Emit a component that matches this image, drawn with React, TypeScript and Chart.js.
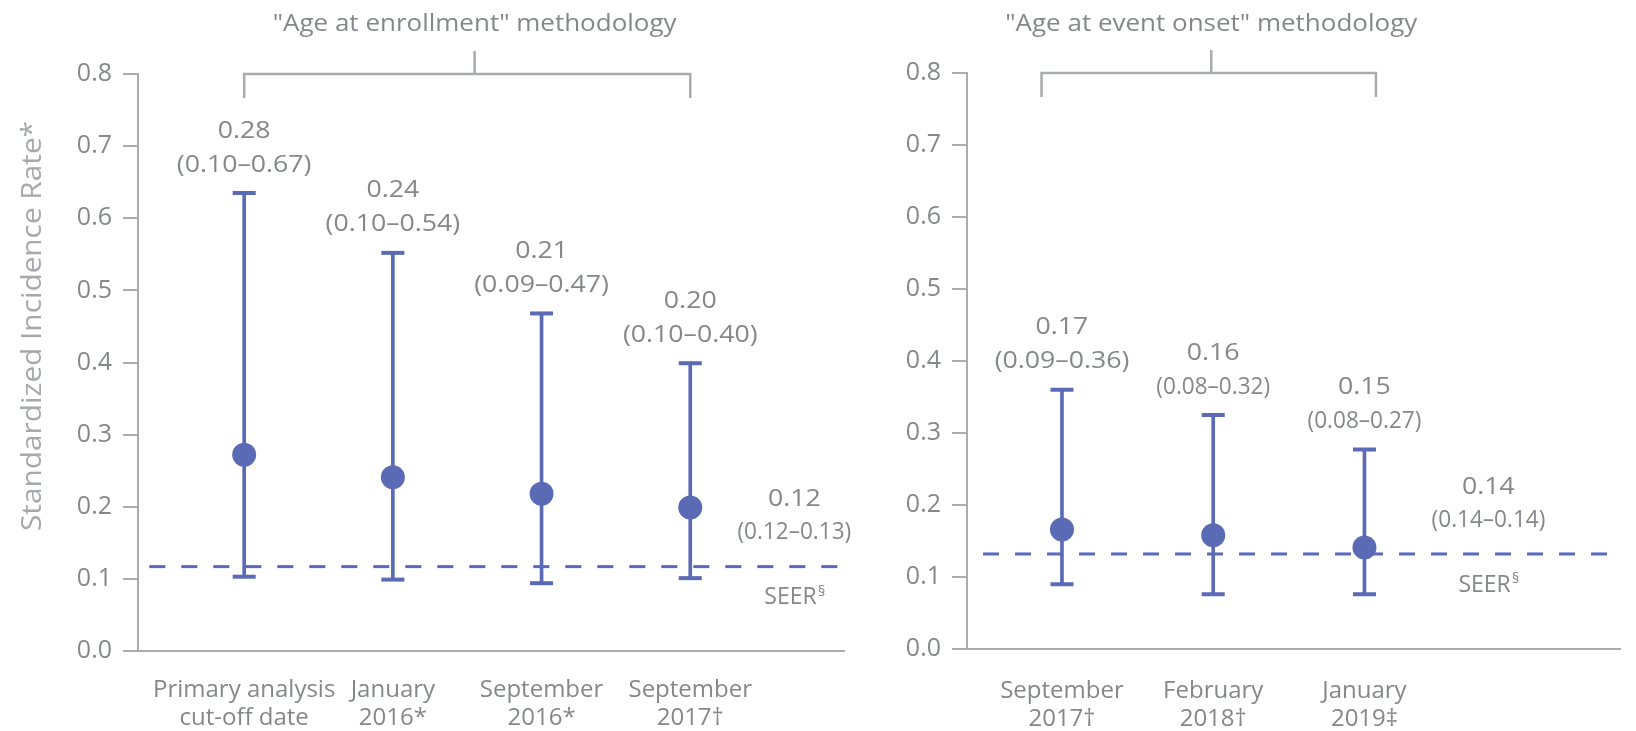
import React, { useEffect, useRef } from "react";
import { Chart, registerables } from "chart.js";

Chart.register(...registerables);

// ---------- data ----------
const Y_TICK_VALUES = [0, 0.1, 0.2, 0.3, 0.4, 0.5, 0.6, 0.7, 0.8];

const LEFT_TITLE = '"Age at enrollment" methodology';
const LEFT_CATEGORIES = [
  ["Primary analysis", "cut-off date"],
  ["January", "2016*"],
  ["September", "2016*"],
  ["September", "2017†"],
];
const LEFT_ESTIMATES = [0.272, 0.241, 0.218, 0.199];
const LEFT_LOWER = [0.103, 0.099, 0.094, 0.101];
const LEFT_UPPER = [0.635, 0.552, 0.468, 0.399];
const LEFT_VALUE_LABELS = ["0.28", "0.24", "0.21", "0.20"];
const LEFT_CI_LABELS = ["(0.10–0.67)", "(0.10–0.54)", "(0.09–0.47)", "(0.10–0.40)"];
const LEFT_SEER = 0.117;
const LEFT_SEER_LABELS = ["0.12", "(0.12–0.13)"];

const RIGHT_TITLE = '"Age at event onset" methodology';
const RIGHT_CATEGORIES = [
  ["September", "2017†"],
  ["February", "2018†"],
  ["January", "2019‡"],
];
const RIGHT_ESTIMATES = [0.166, 0.158, 0.141];
const RIGHT_LOWER = [0.09, 0.076, 0.076];
const RIGHT_UPPER = [0.36, 0.325, 0.277];
const RIGHT_VALUE_LABELS = ["0.17", "0.16", "0.15"];
const RIGHT_CI_LABELS = ["(0.09–0.36)", "(0.08–0.32)", "(0.08–0.27)"];
const RIGHT_SEER = 0.132;
const RIGHT_SEER_LABELS = ["0.14", "(0.14–0.14)"];

const Y_TITLE = "Standardized Incidence Rate*";
const SEER_TEXT = "SEER";
const SEER_MARK = "§";

// ---------- styles ----------
const BLUE = "#5a6ab4";
const AXIS = "#a9abae";
const TEXT = "#85878a";
const TITLE_GRAY = "#a6a8ab";
const FONT = "'Open Sans', 'Noto Sans', sans-serif";
const H = 731;
const WIDE = 1.16;
const NARROW = 0.98;

type PanelCfg = {
  width: number;
  yAxisWidth: number;
  padTop: number;
  padRight: number;
  xAxisHeight: number;
  xPadding: number;
  xMin: number;
  xMax: number;
  seerStart: number;
  seerLabelX: number;
  bracket: [number, number, number];
  title: string;
  yTitle: boolean;
  condensedCI: boolean[];
  categories: string[][];
  estimates: number[];
  lower: number[];
  upper: number[];
  valueLabels: string[];
  ciLabels: string[];
  seer: number;
  seerLabels: string[];
};

const LEFT_PANEL: PanelCfg = {
  width: 860,
  yAxisWidth: 138,
  padTop: 74,
  padRight: 16,
  xAxisHeight: 80,
  xPadding: 17,
  xMin: -0.714,
  xMax: 4.034,
  seerStart: -0.638,
  seerLabelX: 3.7,
  bracket: [0, 3, 1.55],
  title: LEFT_TITLE,
  yTitle: true,
  condensedCI: [false, false, false, false],
  categories: LEFT_CATEGORIES,
  estimates: LEFT_ESTIMATES,
  lower: LEFT_LOWER,
  upper: LEFT_UPPER,
  valueLabels: LEFT_VALUE_LABELS,
  ciLabels: LEFT_CI_LABELS,
  seer: LEFT_SEER,
  seerLabels: LEFT_SEER_LABELS,
};

const RIGHT_PANEL: PanelCfg = {
  width: 776,
  yAxisWidth: 107,
  padTop: 73,
  padRight: 0,
  xAxisHeight: 82,
  xPadding: 20,
  xMin: -0.628,
  xMax: 3.693,
  seerStart: -0.522,
  seerLabelX: 2.82,
  bracket: [-0.135, 2.076, 0.987],
  title: RIGHT_TITLE,
  yTitle: false,
  condensedCI: [false, true, true],
  categories: RIGHT_CATEGORIES,
  estimates: RIGHT_ESTIMATES,
  lower: RIGHT_LOWER,
  upper: RIGHT_UPPER,
  valueLabels: RIGHT_VALUE_LABELS,
  ciLabels: RIGHT_CI_LABELS,
  seer: RIGHT_SEER,
  seerLabels: RIGHT_SEER_LABELS,
};

function drawText(
  ctx: CanvasRenderingContext2D,
  text: string,
  x: number,
  y: number,
  size: number,
  color: string,
  scaleX = 1
) {
  ctx.save();
  ctx.font = `${size}px ${FONT}`;
  ctx.fillStyle = color;
  ctx.textAlign = "center";
  ctx.textBaseline = "middle";
  ctx.translate(x, y);
  ctx.scale(scaleX, 1);
  ctx.fillText(text, 0, 0);
  ctx.restore();
}

function makeAnnotations(cfg: PanelCfg) {
  return {
    id: "annotations",
    afterDatasetsDraw(chart: any) {
      const { ctx } = chart;
      const xs = chart.scales.x;
      const ys = chart.scales.y;
      ctx.save();

      // bracket
      const by = ys.getPixelForValue(0.8);
      const b0 = xs.getPixelForValue(cfg.bracket[0]);
      const b1 = xs.getPixelForValue(cfg.bracket[1]);
      const bs = xs.getPixelForValue(cfg.bracket[2]);
      ctx.strokeStyle = AXIS;
      ctx.lineWidth = 2.5;
      ctx.beginPath();
      ctx.moveTo(b0, by + 24);
      ctx.lineTo(b0, by);
      ctx.lineTo(b1, by);
      ctx.lineTo(b1, by + 24);
      ctx.moveTo(bs, by);
      ctx.lineTo(bs, by - 23);
      ctx.stroke();

      // group title
      drawText(ctx, cfg.title, bs, 24, 23, TEXT, 1.13);

      // value + CI labels
      cfg.valueLabels.forEach((lab, i) => {
        const px = xs.getPixelForValue(i);
        const top = ys.getPixelForValue(cfg.upper[i]);
        drawText(ctx, lab, px, top - 62, 23, TEXT, WIDE);
        drawText(ctx, cfg.ciLabels[i], px, top - 28, 23, TEXT, cfg.condensedCI[i] ? NARROW : WIDE);
      });

      // SEER labels
      const sx = xs.getPixelForValue(cfg.seerLabelX);
      const sy = ys.getPixelForValue(cfg.seer);
      drawText(ctx, cfg.seerLabels[0], sx, sy - 67, 23, TEXT, WIDE);
      drawText(ctx, cfg.seerLabels[1], sx, sy - 34, 23, TEXT, NARROW);
      ctx.font = `23px ${FONT}`;
      const w1 = ctx.measureText(SEER_TEXT).width;
      ctx.font = `15px ${FONT}`;
      const w2 = ctx.measureText(SEER_MARK).width;
      const startX = sx - (w1 + w2) / 2;
      ctx.fillStyle = TEXT;
      ctx.textBaseline = "middle";
      ctx.textAlign = "left";
      ctx.font = `23px ${FONT}`;
      ctx.fillText(SEER_TEXT, startX, sy + 31);
      ctx.font = `15px ${FONT}`;
      ctx.fillText(SEER_MARK, startX + w1 + 1, sy + 25);

      // y-axis title, stretched to ~410px long
      if (cfg.yTitle) {
        ctx.save();
        ctx.font = `27px ${FONT}`;
        ctx.fillStyle = TITLE_GRAY;
        ctx.textAlign = "center";
        ctx.textBaseline = "middle";
        const tw = ctx.measureText(Y_TITLE).width;
        const stretch = tw > 0 ? 410 / tw : 1;
        ctx.translate(33, 326);
        ctx.rotate(-Math.PI / 2);
        ctx.scale(stretch, 1);
        ctx.fillText(Y_TITLE, 0, 0);
        ctx.restore();
      }
      ctx.restore();
    },
  };
}

function Panel({ cfg, left }: { cfg: PanelCfg; left: number }) {
  const ref = useRef<HTMLCanvasElement>(null);
  useEffect(() => {
    if (!ref.current) return;
    const idx = cfg.estimates.map((_, i) => i);
    const chart = new Chart(ref.current, {
      type: "scatter",
      data: {
        datasets: [
          {
            type: "scatter",
            label: "Estimate",
            data: idx.map((i) => ({ x: i, y: cfg.estimates[i] })),
            pointRadius: 12,
            pointBackgroundColor: BLUE,
            pointBorderWidth: 0,
            order: 1,
          },
          {
            type: "scatter",
            label: "CI caps",
            data: idx.flatMap((i) => [
              { x: i, y: cfg.lower[i] },
              { x: i, y: cfg.upper[i] },
            ]),
            pointStyle: "line",
            pointRadius: 11.5,
            pointBorderWidth: 4,
            pointBorderColor: BLUE,
            order: 2,
          },
          {
            type: "bar",
            label: "CI",
            data: idx.map((i) => ({ x: i, y: [cfg.lower[i], cfg.upper[i]] })),
            backgroundColor: BLUE,
            borderWidth: 0,
            barThickness: 3,
            order: 3,
          },
          {
            type: "line",
            label: "SEER",
            data: [
              { x: cfg.seerStart, y: cfg.seer },
              { x: cfg.xMax, y: cfg.seer },
            ],
            borderColor: BLUE,
            borderWidth: 3,
            borderDash: [16, 16],
            pointRadius: 0,
            fill: false,
            order: 4,
          },
        ] as any,
      },
      options: {
        responsive: false,
        animation: false,
        events: [],
        layout: { padding: { top: cfg.padTop, right: cfg.padRight, left: 0, bottom: 0 } },
        plugins: { legend: { display: false }, tooltip: { enabled: false }, title: { display: false } },
        scales: {
          x: {
            type: "linear",
            min: cfg.xMin,
            max: cfg.xMax,
            offset: false,
            grid: { display: false },
            border: { display: true, color: AXIS, width: 2 },
            afterBuildTicks: (scale: any) => {
              scale.ticks = cfg.categories.map((_, i) => ({ value: i }));
            },
            afterFit: (scale: any) => {
              scale.height = cfg.xAxisHeight;
            },
            ticks: {
              autoSkip: false,
              maxRotation: 0,
              minRotation: 0,
              padding: cfg.xPadding,
              color: TEXT,
              font: { family: FONT, size: 24, lineHeight: 1.18 },
              callback: (v: any) => cfg.categories[Math.round(Number(v))] || "",
            },
          },
          y: {
            type: "linear",
            min: 0,
            max: 0.8,
            afterBuildTicks: (scale: any) => {
              scale.ticks = Y_TICK_VALUES.map((v) => ({ value: v }));
            },
            afterFit: (scale: any) => {
              scale.width = cfg.yAxisWidth;
            },
            grid: { drawOnChartArea: false, color: AXIS, lineWidth: 2, tickLength: 15 },
            border: { display: true, color: AXIS, width: 2 },
            ticks: {
              padding: 11,
              color: TEXT,
              font: { family: FONT, size: 25 },
              callback: (v: any) => Number(v).toFixed(1),
            },
          },
        },
      },
      plugins: [makeAnnotations(cfg)],
    } as any);
    return () => chart.destroy();
  }, [cfg]);
  return (
    <div style={{ position: "absolute", left, top: 0, width: cfg.width, height: H }}>
      <canvas ref={ref} width={cfg.width} height={H} style={{ display: "block" }} />
    </div>
  );
}

export default function App() {
  return (
    <div
      style={{
        position: "fixed",
        left: 0,
        top: 0,
        width: 1636,
        height: H,
        background: "#ffffff",
        overflow: "hidden",
      }}
    >
      <Panel cfg={LEFT_PANEL} left={0} />
      <Panel cfg={RIGHT_PANEL} left={860} />
    </div>
  );
}
